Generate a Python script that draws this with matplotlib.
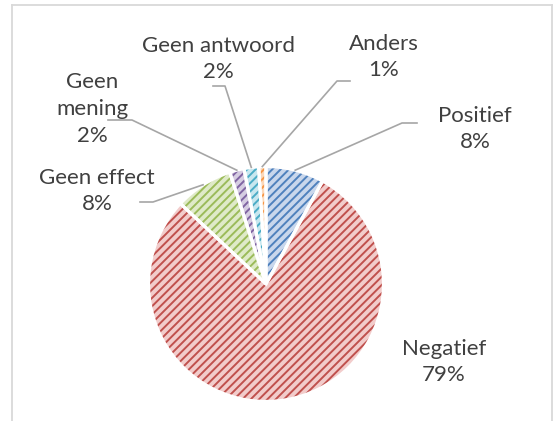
import matplotlib.pyplot as plt
from matplotlib.patches import Wedge
from matplotlib.lines import Line2D
import numpy as np

LABELS = ["Positief", "Negatief", "Geen effect", "Geen mening", "Geen antwoord", "Anders"]
TEXTS = ["Positief\n8%", "Negatief\n79%", "Geen effect\n8%", "Geen\nmening\n2%", "Geen antwoord\n2%", "Anders\n1%"]
VALUES = [8, 79, 8, 2, 2, 1]
EDGE = ["#4F81BD", "#C0504D", "#9BBB59", "#8064A2", "#4BACC6", "#F79646"]
FILL = ["#c9d7ec", "#f2cccb", "#dfeac8", "#d6cde2", "#c8e7ef", "#fbd8ba"]

W, H = 555, 421
CX, CY, R = 266, 284, 117.5  # pie centre / radius in pixels

# label centre (px) and leader line elbow/end (px); None = no leader
LABEL_POS = [(475, 129), (444, 362), (97, 191), (92, 109), (218, 59), (384, 57)]
LEADERS = [((402, 123), (417, 123)), None, ((153, 202), (140, 202)),
           ((132, 120), (108, 120)), ((225, 86), (213, 86)), ((337, 81), (350, 81))]


def px(x, y):
    return (x - CX) / R, (CY - y) / R


def main():
    plt.rcParams["hatch.linewidth"] = 1.4
    fig = plt.figure(figsize=(W / 100, H / 100), dpi=100)
    ax = fig.add_axes([0, 0, 1, 1])

    wedges, _ = ax.pie(VALUES, startangle=90, counterclock=False, radius=1.0,
                       colors=FILL, wedgeprops=dict(linewidth=0))
    ax.set_aspect("auto")
    ax.set_xlim(-CX / R, (W - CX) / R)
    ax.set_ylim(-(H - CY) / R, CY / R)
    ax.axis("off")

    for w, ec in zip(wedges, EDGE):
        w.set_hatch("////")
        w.set_edgecolor(ec)
        ax.add_patch(Wedge(w.center, w.r, w.theta1, w.theta2, facecolor="none",
                           edgecolor="white", linewidth=2.3, zorder=3))

    for w, txt, pos, lead in zip(wedges, TEXTS, LABEL_POS, LEADERS):
        tx, ty = px(*pos)
        ax.text(tx, ty, txt, ha="center", va="center", fontsize=16,
                family="Lato", color="#404040", linespacing=1.42, zorder=5)
        if lead is not None:
            mid = np.deg2rad((w.theta1 + w.theta2) / 2)
            xs = [np.cos(mid) * 1.0] + [px(*p)[0] for p in lead]
            ys = [np.sin(mid) * 1.0] + [px(*p)[1] for p in lead]
            ax.plot(xs, ys, color="#a6a6a6", linewidth=1.2, zorder=4)

    # chart area frame (top, left and right edges)
    fx = [12 / W, 552 / W]
    fy = 1 - 5 / H
    for line in (Line2D(fx, [fy, fy]), Line2D([fx[0]] * 2, [0, fy]), Line2D([fx[1]] * 2, [0, fy])):
        line.set_color("#d9d9d9")
        line.set_linewidth(1.3)
        line.set_transform(fig.transFigure)
        fig.add_artist(line)

    fig.savefig("out.png", dpi=100)


if __name__ == "__main__":
    main()
